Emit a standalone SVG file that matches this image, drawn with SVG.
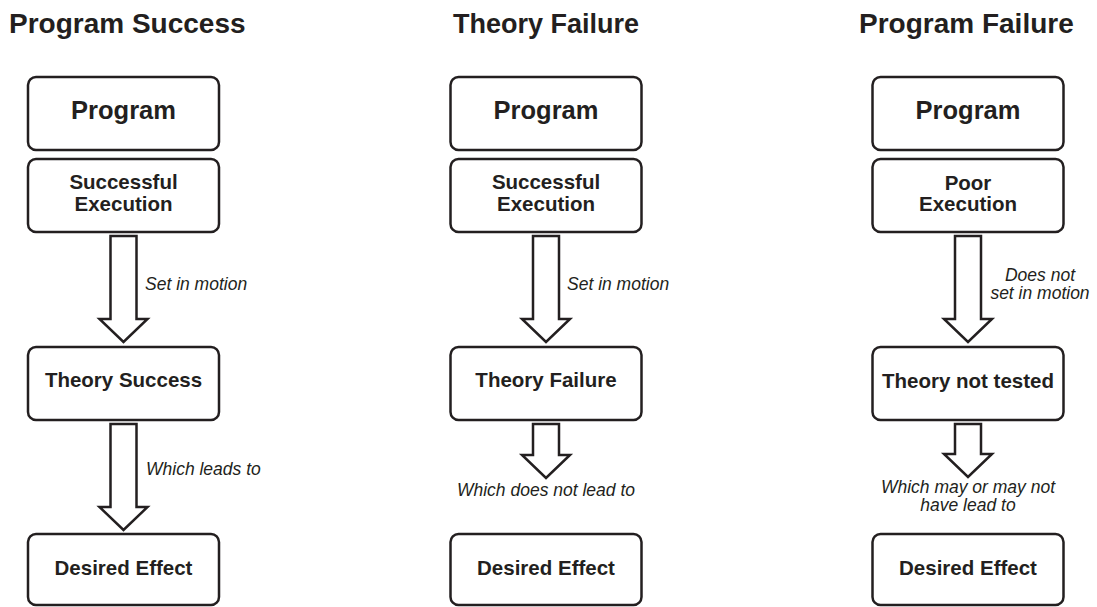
<svg xmlns="http://www.w3.org/2000/svg" width="1097" height="607" viewBox="0 0 1097 607">
<style>
  .box { fill: #ffffff; stroke: #231f20; stroke-width: 2.5; }
  .arrow { fill: #ffffff; stroke: #231f20; stroke-width: 2.5; stroke-linejoin: miter; }
  .title { font-family: "Liberation Sans", Arial, sans-serif; font-weight: bold; font-size: 28px; fill: #231f20; }
  .big { font-family: "Liberation Sans", Arial, sans-serif; font-weight: bold; font-size: 25.5px; fill: #231f20; text-anchor: middle; }
  .lbl { font-family: "Liberation Sans", Arial, sans-serif; font-weight: bold; font-size: 20.5px; fill: #231f20; text-anchor: middle; }
  .note { font-family: "Liberation Sans", Arial, sans-serif; font-style: italic; font-size: 17.5px; fill: #231f20; }
  .mid { text-anchor: middle; }
</style>
<rect width="1097" height="607" fill="#ffffff"/>

<g id="titles">
  <text class="title" x="9" y="33">Program Success</text>
  <text class="title" x="453" y="33" textLength="186" lengthAdjust="spacingAndGlyphs">Theory Failure</text>
  <text class="title" x="859" y="33">Program Failure</text>
</g>

<!-- Column 1 -->
<g id="c1-program"><rect class="box" x="28" y="77" width="191" height="73" rx="8"/><text class="big" x="123.5" y="119">Program</text></g>
<g id="c1-execution"><rect class="box" x="28" y="159" width="191" height="73" rx="8"/><text class="lbl" x="123.5" y="189">Successful</text><text class="lbl" x="123.5" y="211">Execution</text></g>
<g id="c1-theory"><rect class="box" x="28" y="347" width="191" height="73" rx="8"/><text class="lbl" x="123.5" y="387">Theory Success</text></g>
<g id="c1-effect"><rect class="box" x="28" y="534" width="191" height="71" rx="8"/><text class="lbl" x="123.5" y="575">Desired Effect</text></g>

<!-- Column 2 -->
<g id="c2-program"><rect class="box" x="450.5" y="77" width="191" height="73" rx="8"/><text class="big" x="546" y="119">Program</text></g>
<g id="c2-execution"><rect class="box" x="450.5" y="159" width="191" height="73" rx="8"/><text class="lbl" x="546" y="189">Successful</text><text class="lbl" x="546" y="211">Execution</text></g>
<g id="c2-theory"><rect class="box" x="450.5" y="347" width="191" height="73" rx="8"/><text class="lbl" x="546" y="387">Theory Failure</text></g>
<g id="c2-effect"><rect class="box" x="450.5" y="534" width="191" height="71" rx="8"/><text class="lbl" x="546" y="575">Desired Effect</text></g>

<!-- Column 3 -->
<g id="c3-program"><rect class="box" x="872.5" y="77" width="191" height="73" rx="8"/><text class="big" x="968" y="119">Program</text></g>
<g id="c3-execution"><rect class="box" x="872.5" y="159" width="191" height="73" rx="8"/><text class="lbl" x="968" y="190">Poor</text><text class="lbl" x="968" y="211">Execution</text></g>
<g id="c3-theory"><rect class="box" x="872.5" y="347" width="191" height="73" rx="8"/><text class="lbl" x="968" y="388">Theory not tested</text></g>
<g id="c3-effect"><rect class="box" x="872.5" y="534" width="191" height="71" rx="8"/><text class="lbl" x="968" y="575">Desired Effect</text></g>

<g id="connectors">
  <polygon class="arrow" points="110.5,236 136.5,236 136.5,319 147.5,319 123.5,342 99.5,319 110.5,319"/>
  <polygon class="arrow" points="110.5,424 136.5,424 136.5,507 147.5,507 123.5,530 99.5,507 110.5,507"/>
  <polygon class="arrow" points="533,236 559,236 559,319 570,319 546,342 522,319 533,319"/>
  <polygon class="arrow" points="533,424 559,424 559,455 570,455 546,478 522,455 533,455"/>
  <polygon class="arrow" points="955,236 981,236 981,319 992,319 968,342 944,319 955,319"/>
  <polygon class="arrow" points="955,424 981,424 981,454 992,454 968,477 944,454 955,454"/>
  <text class="note" x="145" y="290">Set in motion</text>
  <text class="note" x="146" y="475">Which leads to</text>
  <text class="note" x="567" y="290">Set in motion</text>
  <text class="note mid" x="546" y="496">Which does not lead to</text>
  <text class="note mid" x="1040" y="281">Does not</text>
  <text class="note mid" x="1040" y="299">set in motion</text>
  <text class="note mid" x="968" y="493">Which may or may not</text>
  <text class="note mid" x="968" y="511">have lead to</text>
</g>
</svg>
